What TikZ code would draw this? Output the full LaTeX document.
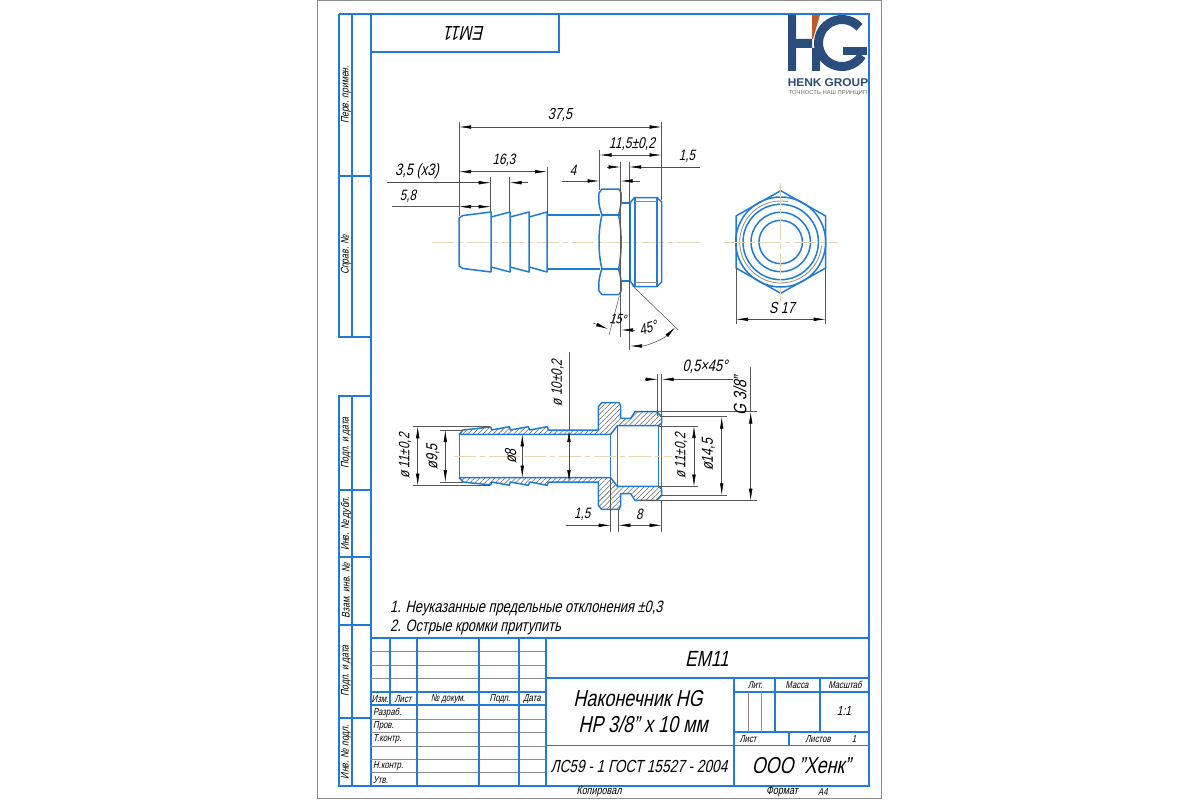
\documentclass[tikz,border=0pt]{standalone}
\usepackage{fontspec}
\setmainfont{Liberation Sans}[FakeSlant=0.22,FakeStretch=0.78]
\newfontfamily\logofont{Liberation Sans}[FakeStretch=1.05]
\usetikzlibrary{arrows.meta,patterns.meta}
\definecolor{framecol}{HTML}{1F7BD6}
\definecolor{thincol}{HTML}{8C8C8C}
\definecolor{axiscol}{HTML}{E6D5B5}
\definecolor{logoblue}{HTML}{2A4D7C}
\definecolor{logored}{HTML}{BC5A2A}
\tikzset{
  frameline/.style={draw=framecol,line width=1.3pt},
  partline/.style={draw=framecol,line width=1.5pt,line join=round},
  thinline/.style={draw=thincol,line width=.8pt},
  extline/.style={draw=black!65,line width=.55pt},
  dimline/.style={draw=black!70,line width=.55pt,{Latex[length=12pt,width=3.6pt,black]}-{Latex[length=12pt,width=3.6pt,black]}},
  tipline/.style={draw=black!70,line width=.55pt,-{Latex[length=12pt,width=3.6pt,black]}},
  axisline/.style={draw=axiscol,line width=1pt,dash pattern=on 22pt off 4pt on 5pt off 4pt},
  hatchfill/.style={pattern={Lines[angle=45,distance=3.6pt,line width=.55pt]},pattern color=black!60},
  txt/.style={inner sep=0pt,font=\fontsize{#1}{#1}\selectfont},
  side/.style={txt=11,rotate=90}
}
\begin{document}
\begin{tikzpicture}[x=1pt,y=-1pt]
  \useasboundingbox (0,0) rectangle (1200,800);
  \draw[draw=black!45,line width=1pt] (317.5,1) rectangle (881.5,798.5);

  \draw[frameline] (371,14) rectangle (869,786);
  \draw[frameline] (339,14) -- (371,14) (339,14) -- (339,337) -- (371,337);
  \draw[frameline] (352,14) -- (352,337);
  \draw[frameline] (339,176) -- (371,176);
  \draw[frameline] (339,396) rectangle (371,786);
  \draw[frameline] (352,396) -- (352,786);
  \foreach \yy in {490,557,625,718} \draw[frameline] (339,\yy) -- (371,\yy);
  \draw[frameline] (371,52) -- (559,52) -- (559,14);
  \node[txt=20,rotate=180] (topcode) at (465,33) {ЕМ11};

  \node[side] (sideA) at (346,95) {Перв. примен.};
  \node[side] (sideB) at (346,255) {Справ. №};
  \node[side] (sideC) at (346,443) {Подп. и дата};
  \node[side] (sideD) at (346,524) {Инв. № дубл.};
  \node[side] (sideE) at (346,591) {Взам. инв. №};
  \node[side] (sideF) at (346,671) {Подп. и дата};
  \node[side] (sideG) at (346,752) {Инв. № подл.};

  \fill[logoblue] (788,15) rectangle (796,71) (796,39) rectangle (812,48);
  \fill[logored] (812,15) -- (820,15) -- (813,39) -- (812,39) -- cycle;
  \fill[logoblue] (812,48) -- (819,48) -- (820,58) -- (820,71) -- (812,71) -- cycle;
  \draw[logoblue,line width=9pt] (842,43) +(-42:23.5) arc[start angle=-42,end angle=-328,radius=23.5];
  \fill[logoblue] (843,47) rectangle (867,55.5);
  \node[inner sep=0pt,text=logoblue,font=\logofont\fontsize{11.3}{11.3}\selectfont\bfseries] (logoname) at (828,83) {HENK GROUP};
  \node[inner sep=0pt,text=black!60,font=\logofont\fontsize{5.6}{5.6}\selectfont] (logotag) at (828,93) {ТОЧНОСТЬ НАШ ПРИНЦИП};

  \draw[axisline] (432,242) -- (700,242);
  \draw[partline] (459,222) -- (459,262) -- (459,266) -- (463,268.5) -- (491,272) -- (491,212) -- (463,215.5) -- (459,218) -- cycle;
  \foreach \xa/\xb in {491/510,510/529,529/547}
    \draw[partline] (\xa,217) -- (\xb,212) -- (\xb,272) -- (\xa,267);
  \draw[partline] (547,215) -- (600,215) (547,269) -- (600,269);
  \draw[partline] (599,193) .. controls (598,203) and (600,210) .. (602,215) .. controls (598,230) and (598,254) .. (602,269) .. controls (600,274) and (598,281) .. (599,291) -- (602,294.5) -- (619,294.5) -- (621,291) .. controls (622,281) and (620,274) .. (618.5,269) .. controls (622,254) and (622,230) .. (618.5,215) .. controls (620,210) and (622,203) .. (621,193) -- (619,189) -- (602,189) -- cycle;
  \draw[partline] (601,215) -- (620,215) (601,269) -- (620,269);
  \draw[partline] (621,203) -- (630,203) -- (630,281) -- (621,281);
  \draw[partline] (630,203) -- (634.5,197.5) -- (657,197.5) -- (661.7,202) -- (661.7,282) -- (657,286.5) -- (634.5,286.5) -- (630,281);
  \draw[partline] (635,197.5) -- (635,286.5) (657,197.5) -- (657,286.5);
  \draw[thinline] (635,201.5) -- (657,201.5) (635,282) -- (657,282);

  \draw[extline] (459,122) -- (459,216) (661.7,122) -- (661.7,200) (599.5,150) -- (599.5,190);
  \draw[extline] (547,167) -- (547,213) (490.7,177) -- (490.7,212) (509.7,177) -- (509.7,212);
  \draw[extline] (620.7,162) -- (620.7,337) (629.2,162) -- (629.2,350);
  \draw[dimline] (459,127) -- (661.7,127);
  \draw[dimline] (599.5,155) -- (661.7,155);
  \draw[dimline] (459,171.7) -- (547,171.7);
  \draw[tipline] (607,167) -- (620.7,167);
  \draw[tipline] (700,167) -- (629.2,167);
  \draw[tipline] (562,181) -- (599.5,181);
  \draw[tipline] (640,181) -- (620.7,181);
  \draw[tipline] (387,182.7) -- (490.7,182.7);
  \draw[tipline] (528,182.7) -- (509.7,182.7);
  \draw[extline] (392,206.7) -- (459,206.7);
  \draw[tipline] (475,206.7) -- (459,206.7);
  \draw[tipline] (475,206.7) -- (490.7,206.7);
  \node[txt=16] (dimlen) at (560,115) {37,5};
  \node[txt=15.5] (dimthread) at (632,144) {11,5±0,2};
  \node[txt=15] (dimgroove) at (687,156) {1,5};
  \node[txt=15] (dimfour) at (573,170) {4};
  \node[txt=15] (dimbarb) at (504,160) {16,3};
  \node[txt=16.5] (dimstep) at (417,171) {3,5 (x3)};
  \node[txt=15] (dimfirst) at (408,196) {5,8};

  \draw[extline] (619.3,296) -- (609,335);
  \draw[extline] (631.7,285) -- (678.3,330);
  \draw[tipline] (593,323) -- (608,329);
  \draw[tipline] (635,330) -- (621,330);
  \draw[dimline] (630,346) arc[start angle=90,end angle=45,radius=64];
  \node[txt=14,rotate=-5] (anglea) at (618,319) {15°};
  \node[txt=15,rotate=15] (angleb) at (648,328) {45°};

  \draw[partline] (780.7,190.7) -- (825.7,216) -- (825.7,268) -- (780.7,293.3) -- (736,268) -- (736,216) -- cycle;
  \foreach \rr in {21.7,29.7,37.7,45} \draw[partline] (780.7,242) circle[radius=\rr];
  \draw[thinline] (780.7,242) +(-80:41) arc[start angle=-80,end angle=-355,radius=41];
  \draw[axisline] (724,242) -- (838,242) (780.7,183) -- (780.7,302);
  \draw[extline] (736,268) -- (736,324) (825.7,268) -- (825.7,324);
  \draw[dimline] (736,319.3) -- (825.7,319.3);
  \node[txt=16] (dimflat) at (782,308) {S 17};

  \draw[partline] (459.3,434.3) -- (459.3,477.7);
  \draw[partline] (610.7,434.3) -- (610.7,477.7) (617.3,425.7) -- (617.3,486.3) (658.3,425.7) -- (658.3,486.3) (661.7,423) -- (661.7,489);
  \draw[partline] (459.3,434.3) -- (610.7,434.3) (459.3,477.7) -- (610.7,477.7);
  \foreach \sgn in {1,-1} {
    \begin{scope}[shift={(0,456)},yscale=\sgn]
      \draw[partline,hatchfill] (459.3,21.7) -- (463,26) -- (490.7,29) -- (491.7,26) -- (509.3,29.3) -- (510.3,26) -- (528.3,29.3) -- (529.7,26) -- (547.3,29.3) -- (548.3,26) -- (598.3,26) -- (598.3,49.3) -- (601.7,53.3) -- (619.3,53.3) -- (620.7,49.3) -- (620.7,37.7) -- (630.7,37.7) -- (635,44.3) -- (656.7,44.3) -- (661.7,39.3) -- (661.7,33) -- (658.3,30.3) -- (617.3,30.3) -- (610.7,21.7) -- cycle;
    \end{scope}
  }
  \draw[axisline] (454,456) -- (672,456);

  \draw[extline] (413,426.3) -- (490,426.3) (413,485.7) -- (490,485.7) (440,430) -- (463,430) (440,482) -- (463,482);
  \draw[extline] (658,426) -- (698,426) (658,486.7) -- (698,486.7) (660,416.7) -- (726.7,416.7) (660,495.3) -- (726.7,495.3);
  \draw[extline] (635,411.7) -- (756.7,411.7) (640,500.7) -- (756.7,500.7);
  \draw[extline] (657.7,374) -- (657.7,416) (661.7,374) -- (661.7,416);
  \draw[extline] (610.7,478) -- (610.7,531.7) (618.3,509) -- (618.3,531.7) (661.7,500) -- (661.7,531.7);
  \draw[dimline] (417.7,426.3) -- (417.7,485.7);
  \draw[dimline] (445.3,430) -- (445.3,482);
  \draw[dimline] (522.3,434.3) -- (522.3,477.7);
  \draw[extline] (569,352) -- (569,430);
  \draw[dimline] (569,430) -- (569,482);
  \draw[dimline] (694,426) -- (694,486.7);
  \draw[dimline] (721.7,416.7) -- (721.7,495.3);
  \draw[extline] (750.7,367) -- (750.7,411.7);
  \draw[dimline] (750.7,411.7) -- (750.7,500.7);
  \draw[tipline] (645,379.3) -- (657.7,379.3);
  \draw[tipline] (733,379.3) -- (661.7,379.3);
  \draw[tipline] (566,525.3) -- (610.7,525.3);
  \draw[dimline] (618.3,525.3) -- (661.7,525.3);
  \node[txt=15,rotate=90] (dimouter) at (405,456) {ø 11±0,2};
  \node[txt=16,rotate=90] (dimroot) at (432.7,456.7) {ø9,5};
  \node[txt=16,rotate=90] (dimbore) at (510.7,456.7) {ø8};
  \node[txt=15,rotate=90] (dimshank) at (557.7,383) {ø 10±0,2};
  \node[txt=15,rotate=90] (dimseat) at (681,456) {ø 11±0,2};
  \node[txt=16,rotate=90] (dimrecess) at (708.3,455) {ø14,5};
  \node[txt=18,rotate=90] (dimpipe) at (740,396) {G 3/8"};
  \node[txt=16.5] (dimchamfer) at (705,367) {0,5×45°};
  \node[txt=15] (dimflange) at (582.3,514) {1,5};
  \node[txt=15] (dimdepth) at (639.3,514) {8};

  \node[txt=16.5,anchor=west] (noteA) at (390,608) {1. Неуказанные предельные отклонения ±0,3};
  \node[txt=16.5,anchor=west] (noteB) at (390,627) {2. Острые кромки притупить};

  \foreach \yy in {651,665,678,719,732,746,759,772} \draw[thinline] (371,\yy) -- (546,\yy);
  \draw[frameline] (371,638) -- (869,638);
  \draw[frameline] (371,692) -- (546,692) (371,705) -- (546,705);
  \draw[frameline] (390,638) -- (390,705);
  \foreach \xx in {417,479,519,546} \draw[frameline] (\xx,638) -- (\xx,786);
  \draw[frameline] (546,678) -- (869,678) (546,745.5) -- (869,745.5);
  \draw[frameline] (734,678) -- (734,786) (734,692) -- (869,692) (734,732) -- (869,732);
  \draw[frameline] (775,678) -- (775,732) (820,678) -- (820,732) (789,732) -- (789,745.5);
  \draw[thinline] (748,692) -- (748,732) (761,692) -- (761,732);

  \node[txt=22] (blockcode) at (707,659) {ЕМ11};
  \node[txt=23] (titleA) at (638,699) {Наконечник HG};
  \node[txt=23] (titleB) at (643,724) {НР 3/8" х 10 мм};
  \node[txt=17.5] (standard) at (639,766) {ЛС59 - 1 ГОСТ 15527 - 2004};
  \node[txt=23] (company) at (801,766) {ООО "Хенк"};
  \foreach \xx/\lbl in {380/Изм.,403/Лист,448/№ докум.,500/Подп.,532/Дата}
    \node[txt=10] at (\xx,699) {\lbl};
  \foreach \yy/\lbl in {713/Разраб.,726/Пров.,739/Т.контр.,766/Н.контр.,780/Утв.}
    \node[txt=10,anchor=west] at (373,\yy) {\lbl};
  \foreach \xx/\lbl in {755/Лит.,797/Масса,845/Масштаб}
    \node[txt=10] at (\xx,685) {\lbl};
  \node[txt=13] (scale) at (844,711) {1:1};
  \node[txt=10] (sheet) at (748,739) {Лист};
  \node[txt=10] (sheets) at (818,739) {Листов};
  \node[txt=10] (sheetno) at (854,739) {1};
  \node[txt=11.5] (copied) at (599,792) {Копировал};
  \node[txt=11.5] (format) at (782,792) {Формат};
  \node[txt=10] (size) at (823,792) {А4};
\end{tikzpicture}
\end{document}
